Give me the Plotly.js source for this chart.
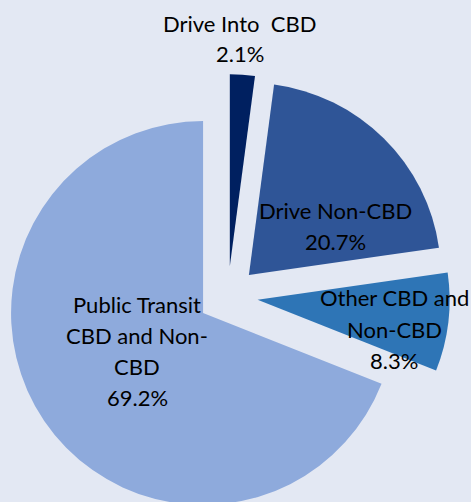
<!DOCTYPE html>
<html>
<head>
<meta charset="utf-8">
<script src="https://cdn.plot.ly/plotly-3.0.1.min.js"></script>
<style>
html,body{margin:0;padding:0;overflow:hidden;background:#E3E8F3;}
#chart{width:471px;height:600px;}
</style>
</head>
<body>
<div id="chart"></div>
<script>
// Data
const categories = ["Drive Into  CBD", "Drive Non-CBD", "Other CBD and<br>Non-CBD", "Public Transit<br>CBD and Non-<br>CBD"];
const shares = [2.1, 20.7, 8.3, 69.2];
const percentLabels = ["2.1%", "20.7%", "8.3%", "69.2%"];

// Styling
const colors = ["#002060", "#2F5597", "#2E75B6", "#8EAADC"];
const pulls = [0.156, 0.156, 0.156, 0.156];
const W = 471, H = 600;
const LINE = 31; // px between label lines
// label block centres (pixels) – layout only
const labelPos = [[239.5, 38.5], [335, 226], [394, 329], [137, 351]];

const trace = {
  type: "pie",
  values: shares,
  labels: categories,
  sort: false,
  direction: "clockwise",
  rotation: 0,
  pull: pulls,
  marker: {colors: colors, line: {width: 0}},
  textinfo: "none",
  hoverinfo: "none",
  domain: {x: [0.0125, 0.955], y: [0.1363, 0.8763]}
};

const annotations = [];
categories.forEach((c, i) => {
  const lines = (c + "<br>" + percentLabels[i]).split("<br>");
  const n = lines.length;
  lines.forEach((ln, k) => {
    const py = labelPos[i][1] + (k - (n - 1) / 2) * LINE;
    annotations.push({
      xref: "paper", yref: "paper",
      x: labelPos[i][0] / W, y: 1 - py / H,
      xanchor: "center", yanchor: "middle",
      text: ln,
      showarrow: false,
      font: {family: "Lato, 'Open Sans', sans-serif", size: 22, color: "#000000"}
    });
  });
});

const layout = {
  width: W, height: H,
  margin: {l: 0, r: 0, t: 0, b: 0},
  paper_bgcolor: "#E3E8F3",
  plot_bgcolor: "#E3E8F3",
  showlegend: false,
  annotations: annotations
};

Plotly.newPlot("chart", [trace], layout, {displayModeBar: false, staticPlot: true});
</script>
</body>
</html>
